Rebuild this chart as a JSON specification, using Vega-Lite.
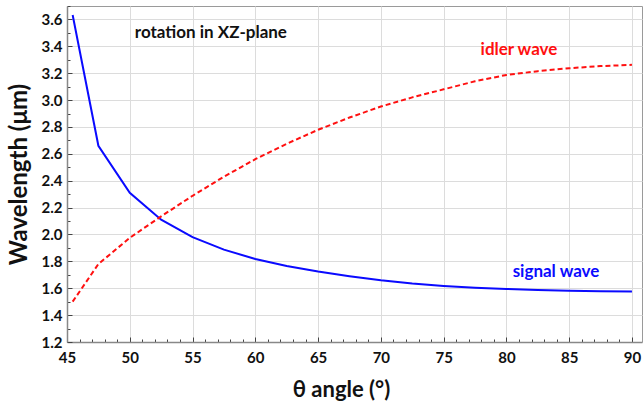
{
  "$schema": "https://vega.github.io/schema/vega-lite/v6.json",
  "width": 575,
  "height": 336,
  "autosize": "none",
  "padding": {"left": 67, "top": 6, "right": 1, "bottom": 70},
  "background": "white",
  "config": {
    "view": {"stroke": "#9a9a9a", "strokeWidth": 1},
    "font": "Lato"
  },
  "datasets": {
    "curves": [
      {"angle": 45.45, "wl": 3.633, "wave": "signal"},
      {"angle": 47.5, "wl": 2.66, "wave": "signal"},
      {"angle": 50, "wl": 2.31, "wave": "signal"},
      {"angle": 52.5, "wl": 2.11, "wave": "signal"},
      {"angle": 55, "wl": 1.98, "wave": "signal"},
      {"angle": 57.5, "wl": 1.887, "wave": "signal"},
      {"angle": 60, "wl": 1.818, "wave": "signal"},
      {"angle": 62.5, "wl": 1.766, "wave": "signal"},
      {"angle": 65, "wl": 1.724, "wave": "signal"},
      {"angle": 67.5, "wl": 1.689, "wave": "signal"},
      {"angle": 70, "wl": 1.659, "wave": "signal"},
      {"angle": 72.5, "wl": 1.635, "wave": "signal"},
      {"angle": 75, "wl": 1.617, "wave": "signal"},
      {"angle": 77.5, "wl": 1.604, "wave": "signal"},
      {"angle": 80, "wl": 1.595, "wave": "signal"},
      {"angle": 82.5, "wl": 1.587, "wave": "signal"},
      {"angle": 85, "wl": 1.581, "wave": "signal"},
      {"angle": 87.5, "wl": 1.577, "wave": "signal"},
      {"angle": 90, "wl": 1.575, "wave": "signal"},
      {"angle": 45.45, "wl": 1.5, "wave": "idler"},
      {"angle": 47.5, "wl": 1.78, "wave": "idler"},
      {"angle": 50, "wl": 1.975, "wave": "idler"},
      {"angle": 52.5, "wl": 2.135, "wave": "idler"},
      {"angle": 55, "wl": 2.288, "wave": "idler"},
      {"angle": 57.5, "wl": 2.43, "wave": "idler"},
      {"angle": 60, "wl": 2.56, "wave": "idler"},
      {"angle": 62.5, "wl": 2.675, "wave": "idler"},
      {"angle": 65, "wl": 2.779, "wave": "idler"},
      {"angle": 67.5, "wl": 2.87, "wave": "idler"},
      {"angle": 70, "wl": 2.952, "wave": "idler"},
      {"angle": 72.5, "wl": 3.02, "wave": "idler"},
      {"angle": 75, "wl": 3.08, "wave": "idler"},
      {"angle": 77.5, "wl": 3.14, "wave": "idler"},
      {"angle": 80, "wl": 3.187, "wave": "idler"},
      {"angle": 82.5, "wl": 3.215, "wave": "idler"},
      {"angle": 85, "wl": 3.237, "wave": "idler"},
      {"angle": 87.5, "wl": 3.253, "wave": "idler"},
      {"angle": 90, "wl": 3.262, "wave": "idler"}
    ],
    "notes": [
      {"angle": 50.4, "wl": 3.5, "label": "rotation in XZ-plane", "kind": "title"},
      {"angle": 81.0, "wl": 3.373, "label": "idler wave", "kind": "idler"},
      {"angle": 83.95, "wl": 1.724, "label": "signal wave", "kind": "signal"}
    ]
  },
  "layer": [
    {
      "data": {"name": "curves"},
      "transform": [{"filter": "datum.wave === 'signal'"}],
      "mark": {"type": "line", "color": "#0a0aff", "strokeWidth": 2, "clip": true},
      "encoding": {
        "x": {
          "field": "angle", "type": "quantitative",
          "scale": {"domain": [45, 90.8], "nice": false, "zero": false},
          "axis": {
            "title": "θ angle (°)",
            "titleFont": "Lato", "titleFontSize": 22, "titleFontWeight": "bold", "titleColor": "#111",
            "titlePadding": 12,
            "titleX": 274,
            "tickCount": 200,
            "values": [45,46,47,48,49,50,51,52,53,54,55,56,57,58,59,60,61,62,63,64,65,66,67,68,69,70,71,72,73,74,75,76,77,78,79,80,81,82,83,84,85,86,87,88,89,90],
            "format": "d",
            "labelExpr": "datum.value % 5 === 0 ? datum.label : ''",
            "labelOverlap": false,
            "labelBound": false,
            "labelFlush": false,
            "labelFont": "Lato", "labelFontSize": 15, "labelFontWeight": "bold", "labelColor": "#111",
            "labelPadding": 13,
            "domainColor": "#888", "domainWidth": 1.5,
            "tickColor": "#444",
            "tickWidth": 1,
            "tickSize": {"condition": {"test": "datum.value % 5 === 0", "value": -5}, "value": -3},
            "grid": true,
            "gridColor": "#dcdcdc",
            "gridOpacity": {"condition": {"test": "datum.value % 5 === 0", "value": 1}, "value": 0}
          }
        },
        "y": {
          "field": "wl", "type": "quantitative",
          "scale": {"domain": [1.2, 3.7], "nice": false, "zero": false},
          "axis": {
            "title": "Wavelength (μm)",
            "titleFont": "Lato", "titleFontSize": 24, "titleFontWeight": "bold", "titleColor": "#111",
            "titlePadding": 10,
            "tickCount": 200,
            "values": [1.2,1.3,1.4,1.5,1.6,1.7,1.8,1.9,2.0,2.1,2.2,2.3,2.4,2.5,2.6,2.7,2.8,2.9,3.0,3.1,3.2,3.3,3.4,3.5,3.6,3.7],
            "format": ".1f",
            "labelExpr": "round(datum.value * 10) % 2 === 0 ? datum.label : ''",
            "labelOverlap": false,
            "labelBound": false,
            "labelFlush": false,
            "labelFont": "Lato", "labelFontSize": 15, "labelFontWeight": "bold", "labelColor": "#111",
            "labelPadding": 10,
            "domainColor": "#888", "domainWidth": 1.5,
            "tickColor": "#444",
            "tickWidth": 1,
            "tickSize": {"condition": {"test": "round(datum.value * 10) % 2 === 0", "value": -5}, "value": -3},
            "grid": true,
            "gridColor": "#dcdcdc",
            "gridOpacity": {"condition": {"test": "round(datum.value * 10) % 2 === 0", "value": 1}, "value": 0}
          }
        }
      }
    },
    {
      "data": {"name": "curves"},
      "transform": [{"filter": "datum.wave === 'idler'"}],
      "mark": {"type": "line", "color": "#ff1010", "strokeWidth": 2, "strokeDash": [5, 3], "clip": true},
      "encoding": {
        "x": {"field": "angle", "type": "quantitative"},
        "y": {"field": "wl", "type": "quantitative"}
      }
    },
    {
      "data": {"name": "notes"},
      "mark": {"type": "text", "font": "Lato", "fontSize": 17, "fontWeight": "bold", "align": "left", "baseline": "middle"},
      "transform": [{"filter": "datum.kind === 'title'"}],
      "encoding": {
        "x": {"field": "angle", "type": "quantitative"},
        "y": {"field": "wl", "type": "quantitative"},
        "text": {"field": "label"},
        "color": {"value": "#111"}
      }
    },
    {
      "data": {"name": "notes"},
      "mark": {"type": "text", "font": "Lato", "fontSize": 17, "fontWeight": "bold", "align": "center", "baseline": "middle"},
      "transform": [{"filter": "datum.kind !== 'title'"}],
      "encoding": {
        "x": {"field": "angle", "type": "quantitative"},
        "y": {"field": "wl", "type": "quantitative"},
        "text": {"field": "label"},
        "color": {"field": "kind", "type": "nominal", "scale": {"domain": ["idler", "signal"], "range": ["#ff1010", "#0a0aff"]}, "legend": null}
      }
    }
  ]
}
